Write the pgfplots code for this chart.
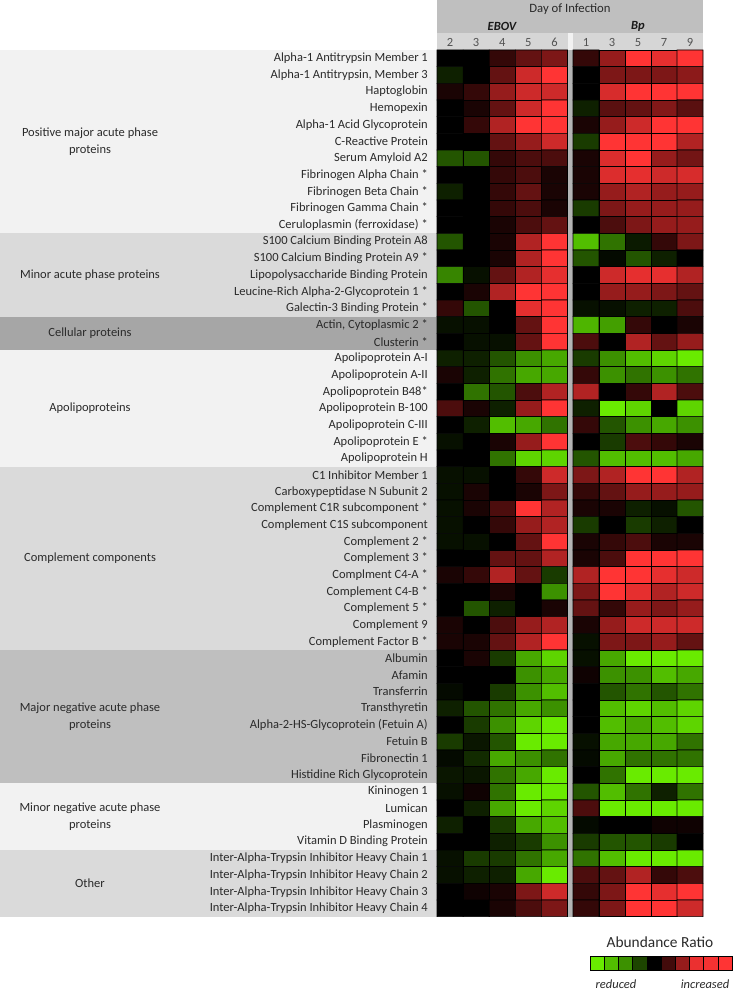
\documentclass[border=0pt]{standalone}
\usepackage{pgfplots}
\pgfplotsset{compat=1.18}
\usepackage{fontspec}
\setmainfont{Carlito}
\definecolor{gA}{HTML}{F2F2F2}
\definecolor{gB}{HTML}{DADADA}
\definecolor{gC}{HTML}{A6A6A6}
\definecolor{gD}{HTML}{BFBFBF}
\definecolor{hdr}{HTML}{BFBFBF}
\definecolor{hdrb}{HTML}{D6D6D6}
\definecolor{sepc}{HTML}{B4B4B4}
\definecolor{txt}{HTML}{2A2A2A}
\newcommand{\lab}[2]{\node[anchor=east,text=txt,font=\fontsize{12.5}{15}\selectfont,inner sep=0pt] at (axis cs:428,{50+16.667*(#1-0.5)}) {#2};}
\begin{document}
\begin{tikzpicture}
\begin{axis}[
  scale only axis, width=733pt, height=992pt,
  xmin=0, xmax=733, ymin=0, ymax=992, y dir=reverse,
  axis lines=none, clip=false,
  colormap={rg}{rgb255=(105,235,0) rgb255=(82,190,0) rgb255=(60,145,0) rgb255=(35,85,0) rgb255=(14,32,0) rgb255=(0,0,0) rgb255=(52,8,8) rgb255=(100,18,18) rgb255=(150,28,28) rgb255=(205,42,42) rgb255=(255,52,52)},
  point meta min=-5, point meta max=5,
]
% left panel bands
\fill[gA] (axis cs:0,50) rectangle (axis cs:437,233.33);
\fill[gB] (axis cs:0,233.33) rectangle (axis cs:437,316.67);
\fill[gC] (axis cs:0,316.67) rectangle (axis cs:437,350);
\fill[gA] (axis cs:0,350) rectangle (axis cs:437,466.67);
\fill[gB] (axis cs:0,466.67) rectangle (axis cs:437,650);
\fill[gD] (axis cs:0,650) rectangle (axis cs:437,783.33);
\fill[gA] (axis cs:0,783.33) rectangle (axis cs:437,850);
\fill[gB] (axis cs:0,850) rectangle (axis cs:437,916.67);
% header
\fill[hdr] (axis cs:437,0) rectangle (axis cs:703,33);
\fill[hdrb] (axis cs:437,33) rectangle (axis cs:567.5,50);
\fill[hdrb] (axis cs:573,33) rectangle (axis cs:703,50);
\fill[gA] (axis cs:567.5,33) rectangle (axis cs:573,50);
\fill[sepc] (axis cs:567.5,50) rectangle (axis cs:573,916.67);
\node[text=txt,font=\fontsize{12.7}{15}\selectfont] at (axis cs:570,9) {Day of Infection};
\node[text=black!90,font=\fontsize{12.5}{15}\selectfont\bfseries\itshape] at (axis cs:502,26) {EBOV};
\node[text=black!90,font=\fontsize{12.5}{15}\selectfont\bfseries\itshape] at (axis cs:638,26) {Bp};
\foreach \d/\xx in {2/450.05,3/476.15,4/502.25,5/528.35,6/554.45,1/586,3/612,5/638,7/664,9/690}{
  \edef\tmp{\noexpand\node[text=black!68,font=\noexpand\fontsize{12.5}{15}\noexpand\selectfont] at (axis cs:\xx,42.5) {\d};}\tmp}
% EBOV heatmap (days 2,3,4,5,6)
\addplot[matrix plot*, mesh/cols=5, point meta=explicit, draw=black, line width=0.6pt]
 table[row sep=\\, x expr={450.05+26.1*\thisrow{c}}, y expr={50+16.667*(\thisrow{r}-0.5)}, meta=v]{
c r v\\
0 1 0\\ 1 1 0\\ 2 1 1\\ 3 1 2\\ 4 1 2.5\\
0 2 -1\\ 1 2 0\\ 2 2 2\\ 3 2 4\\ 4 2 5\\
0 3 0.5\\ 1 3 1\\ 2 3 3\\ 3 3 4\\ 4 3 4\\
0 4 0\\ 1 4 0.5\\ 2 4 2\\ 3 4 4\\ 4 4 5\\
0 5 0\\ 1 5 1\\ 2 5 3.5\\ 3 5 5\\ 4 5 5\\
0 6 0\\ 1 6 0\\ 2 6 2\\ 3 6 3\\ 4 6 4\\
0 7 -2\\ 1 7 -2\\ 2 7 1\\ 3 7 1.5\\ 4 7 1.5\\
0 8 0\\ 1 8 0\\ 2 8 1\\ 3 8 1.5\\ 4 8 0.5\\
0 9 -1\\ 1 9 0\\ 2 9 1\\ 3 9 2\\ 4 9 0.5\\
0 10 0\\ 1 10 0\\ 2 10 1\\ 3 10 1.5\\ 4 10 0.5\\
0 11 0\\ 1 11 0\\ 2 11 0.5\\ 3 11 1.5\\ 4 11 2\\
0 12 -2\\ 1 12 0\\ 2 12 0.5\\ 3 12 3.5\\ 4 12 5\\
0 13 0\\ 1 13 0\\ 2 13 0.5\\ 3 13 3.5\\ 4 13 5\\
0 14 -2.8\\ 1 14 -0.5\\ 2 14 2\\ 3 14 3.5\\ 4 14 4.5\\
0 15 0\\ 1 15 0.5\\ 2 15 3.5\\ 3 15 5\\ 4 15 5\\
0 16 1\\ 1 16 -2\\ 2 16 0\\ 3 16 4.5\\ 4 16 5\\
0 17 -0.5\\ 1 17 -0.5\\ 2 17 0\\ 3 17 2\\ 4 17 5\\
0 18 0\\ 1 18 -0.5\\ 2 18 -0.5\\ 3 18 2\\ 4 18 5\\
0 19 -1\\ 1 19 -1\\ 2 19 -2\\ 3 19 -3\\ 4 19 -3.5\\
0 20 0.5\\ 1 20 -1\\ 2 20 -2.5\\ 3 20 -3.5\\ 4 20 -3.5\\
0 21 0\\ 1 21 -2.5\\ 2 21 -2\\ 3 21 1.5\\ 4 21 3.5\\
0 22 1.5\\ 1 22 0.5\\ 2 22 -1\\ 3 22 3\\ 4 22 5\\
0 23 0\\ 1 23 -1\\ 2 23 -4\\ 3 23 -3.5\\ 4 23 -2.5\\
0 24 -0.5\\ 1 24 0\\ 2 24 0.5\\ 3 24 3\\ 4 24 5\\
0 25 0\\ 1 25 0\\ 2 25 -2.5\\ 3 25 -4.5\\ 4 25 -4.5\\
0 26 -0.5\\ 1 26 -0.5\\ 2 26 0\\ 3 26 1\\ 4 26 4\\
0 27 -0.5\\ 1 27 0.5\\ 2 27 0\\ 3 27 0.5\\ 4 27 2.5\\
0 28 -0.5\\ 1 28 0.5\\ 2 28 1.5\\ 3 28 5\\ 4 28 3.5\\
0 29 -0.5\\ 1 29 0\\ 2 29 1\\ 3 29 3\\ 4 29 3.5\\
0 30 -0.5\\ 1 30 -0.5\\ 2 30 0\\ 3 30 2\\ 4 30 5\\
0 31 0\\ 1 31 0\\ 2 31 2\\ 3 31 2\\ 4 31 3.5\\
0 32 0.5\\ 1 32 1\\ 2 32 3.5\\ 3 32 2\\ 4 32 -1.5\\
0 33 0\\ 1 33 0\\ 2 33 0.5\\ 3 33 0\\ 4 33 -3\\
0 34 0\\ 1 34 -2\\ 2 34 -1\\ 3 34 0\\ 4 34 0.5\\
0 35 0.5\\ 1 35 0\\ 2 35 1.5\\ 3 35 3\\ 4 35 3.5\\
0 36 0.5\\ 1 36 0.5\\ 2 36 2\\ 3 36 3.5\\ 4 36 5\\
0 37 0\\ 1 37 0.5\\ 2 37 -1.5\\ 3 37 -3.5\\ 4 37 -4.5\\
0 38 0\\ 1 38 0\\ 2 38 0\\ 3 38 -3\\ 4 38 -3.5\\
0 39 -0.3\\ 1 39 0\\ 2 39 -1.5\\ 3 39 -3\\ 4 39 -4\\
0 40 -1\\ 1 40 -2\\ 2 40 -2.5\\ 3 40 -3.5\\ 4 40 -3\\
0 41 0\\ 1 41 -1.5\\ 2 41 -3\\ 3 41 -4.5\\ 4 41 -5\\
0 42 -1.5\\ 1 42 -0.7\\ 2 42 -2\\ 3 42 -5\\ 4 42 -5\\
0 43 -0.3\\ 1 43 -1.2\\ 2 43 -3.5\\ 3 43 -3\\ 4 43 -2.5\\
0 44 -0.7\\ 1 44 -0.7\\ 2 44 -2.5\\ 3 44 -3.5\\ 4 44 -5\\
0 45 -0.5\\ 1 45 0.3\\ 2 45 -2.5\\ 3 45 -5\\ 4 45 -5\\
0 46 0\\ 1 46 -1\\ 2 46 -3.5\\ 3 46 -5\\ 4 46 -4.5\\
0 47 -1\\ 1 47 0\\ 2 47 -1.5\\ 3 47 -3.5\\ 4 47 -4\\
0 48 0\\ 1 48 0\\ 2 48 -1\\ 3 48 -1.5\\ 4 48 -3\\
0 49 -0.5\\ 1 49 -1.5\\ 2 49 -1.5\\ 3 49 -2.5\\ 4 49 -3.5\\
0 50 -0.5\\ 1 50 -1\\ 2 50 -1\\ 3 50 -3.5\\ 4 50 -5\\
0 51 0\\ 1 51 0.3\\ 2 51 0.5\\ 3 51 2.5\\ 4 51 4\\
0 52 0\\ 1 52 0\\ 2 52 0.5\\ 3 52 1.5\\ 4 52 2.5\\
};
% Bp heatmap (days 1,3,5,7,9)
\addplot[matrix plot*, mesh/cols=5, point meta=explicit, draw=black, line width=0.6pt]
 table[row sep=\\, x expr={586+26*\thisrow{c}}, y expr={50+16.667*(\thisrow{r}-0.5)}, meta=v]{
c r v\\
0 1 1\\ 1 1 3\\ 2 1 5\\ 3 1 4.5\\ 4 1 5\\
0 2 0\\ 1 2 2.5\\ 2 2 2.5\\ 3 2 2.5\\ 4 2 2.8\\
0 3 0\\ 1 3 4.2\\ 2 3 5\\ 3 3 5\\ 4 3 5\\
0 4 -1\\ 1 4 1.8\\ 2 4 2\\ 3 4 2.6\\ 4 4 1.8\\
0 5 0.5\\ 1 5 3\\ 2 5 4\\ 3 5 5\\ 4 5 5\\
0 6 -1.5\\ 1 6 5\\ 2 6 5\\ 3 6 5\\ 4 6 3.5\\
0 7 0.5\\ 1 7 4.3\\ 2 7 5\\ 3 7 3\\ 4 7 2.3\\
0 8 0.5\\ 1 8 4.3\\ 2 8 4.5\\ 3 8 4\\ 4 8 4.2\\
0 9 0.5\\ 1 9 3\\ 2 9 3.5\\ 3 9 3\\ 4 9 3\\
0 10 -1.5\\ 1 10 2.5\\ 2 10 3\\ 3 10 3\\ 4 10 3\\
0 11 0\\ 1 11 1.5\\ 2 11 2.5\\ 3 11 3\\ 4 11 3\\
0 12 -4\\ 1 12 -2.5\\ 2 12 -0.8\\ 3 12 1\\ 4 12 2.5\\
0 13 -2\\ 1 13 -0.3\\ 2 13 -2\\ 3 13 -1\\ 4 13 0\\
0 14 0\\ 1 14 4\\ 2 14 4.5\\ 3 14 4.5\\ 4 14 3.5\\
0 15 0\\ 1 15 3\\ 2 15 3\\ 3 15 2.5\\ 4 15 2\\
0 16 -0.5\\ 1 16 -0.5\\ 2 16 -1\\ 3 16 -1\\ 4 16 1.5\\
0 17 -3.8\\ 1 17 -3.3\\ 2 17 1\\ 3 17 0\\ 4 17 0.5\\
0 18 1.5\\ 1 18 0\\ 2 18 3.5\\ 3 18 2\\ 4 18 3\\
0 19 -1.5\\ 1 19 -3\\ 2 19 -4\\ 3 19 -4.5\\ 4 19 -5\\
0 20 1\\ 1 20 -3\\ 2 20 -2.5\\ 3 20 -3\\ 4 20 -2.5\\
0 21 3.5\\ 1 21 0\\ 2 21 1\\ 3 21 3.5\\ 4 21 1.5\\
0 22 -1\\ 1 22 -5\\ 2 22 -4.5\\ 3 22 0\\ 4 22 -4.5\\
0 23 1\\ 1 23 -2\\ 2 23 -3\\ 3 23 -3.5\\ 4 23 -3\\
0 24 0\\ 1 24 -1.5\\ 2 24 1.5\\ 3 24 1\\ 4 24 0.5\\
0 25 -2\\ 1 25 -4\\ 2 25 -4\\ 3 25 -4\\ 4 25 -3.5\\
0 26 2.5\\ 1 26 3.5\\ 2 26 5\\ 3 26 5\\ 4 26 3.5\\
0 27 1\\ 1 27 2\\ 2 27 3\\ 3 27 3\\ 4 27 3\\
0 28 0.5\\ 1 28 0.5\\ 2 28 -1\\ 3 28 -0.5\\ 4 28 -2\\
0 29 -1.5\\ 1 29 0\\ 2 29 -1.5\\ 3 29 -1\\ 4 29 0\\
0 30 0.5\\ 1 30 1\\ 2 30 1.5\\ 3 30 0.5\\ 4 30 0.5\\
0 31 0.5\\ 1 31 1.5\\ 2 31 5\\ 3 31 5\\ 4 31 5\\
0 32 3.5\\ 1 32 5\\ 2 32 5\\ 3 32 4.5\\ 4 32 4\\
0 33 2.5\\ 1 33 5\\ 2 33 4.5\\ 3 33 3.5\\ 4 33 4\\
0 34 2\\ 1 34 1\\ 2 34 3\\ 3 34 2.5\\ 4 34 3\\
0 35 0.5\\ 1 35 3\\ 2 35 4\\ 3 35 4\\ 4 35 4\\
0 36 -0.5\\ 1 36 2.5\\ 2 36 2.5\\ 3 36 3\\ 4 36 2\\
0 37 -0.5\\ 1 37 -3.5\\ 2 37 -5\\ 3 37 -5\\ 4 37 -5\\
0 38 0.3\\ 1 38 -3\\ 2 38 -3\\ 3 38 -4\\ 4 38 -3.5\\
0 39 0\\ 1 39 -2\\ 2 39 -2.5\\ 3 39 -2\\ 4 39 -2.5\\
0 40 0\\ 1 40 -4\\ 2 40 -4.5\\ 3 40 -4\\ 4 40 -4.5\\
0 41 0\\ 1 41 -4\\ 2 41 -3.5\\ 3 41 -4\\ 4 41 -4.5\\
0 42 -0.5\\ 1 42 -3.5\\ 2 42 -3.5\\ 3 42 -3.5\\ 4 42 -2.5\\
0 43 -0.3\\ 1 43 -3.5\\ 2 43 -2.5\\ 3 43 -2.5\\ 4 43 -2.5\\
0 44 0\\ 1 44 -2.5\\ 2 44 -5\\ 3 44 -5\\ 4 44 -5\\
0 45 -2\\ 1 45 -4\\ 2 45 -2.5\\ 3 45 -1\\ 4 45 -2.5\\
0 46 1.5\\ 1 46 -5\\ 2 46 -5\\ 3 46 -5\\ 4 46 -5\\
0 47 -0.3\\ 1 47 0\\ 2 47 0\\ 3 47 0.3\\ 4 47 0.3\\
0 48 -1.5\\ 1 48 -2\\ 2 48 -2\\ 3 48 -1.5\\ 4 48 0\\
0 49 -2.5\\ 1 49 -4\\ 2 49 -5\\ 3 49 -5\\ 4 49 -5\\
0 50 1.5\\ 1 50 2\\ 2 50 3.5\\ 3 50 1\\ 4 50 1.5\\
0 51 1\\ 1 51 2.5\\ 2 51 5\\ 3 51 4.5\\ 4 51 5\\
0 52 1\\ 1 52 2.5\\ 2 52 5\\ 3 52 5\\ 4 52 4\\
};
% legend swatches
\addplot[scatter, only marks, mark=square*, mark size=7.1pt, point meta=explicit,
  scatter/use mapped color={draw=black, fill=mapped color}, line width=0.5pt]
 table[row sep=\\, meta=v]{
x y v\\
597.1 963.5 -5\\ 611.3 963.5 -4\\ 625.5 963.5 -3\\ 639.7 963.5 -1.7\\ 653.9 963.5 0\\
668.1 963.5 1.3\\ 682.3 963.5 3\\ 696.5 963.5 4.6\\ 710.7 963.5 4.8\\ 724.9 963.5 5\\
};
\node[text=txt,font=\fontsize{15.4}{18}\selectfont] at (axis cs:660,942) {Abundance Ratio};
\node[text=txt,font=\fontsize{12.5}{15}\selectfont\itshape] at (axis cs:616,984) {reduced};
\node[text=txt,font=\fontsize{12.5}{15}\selectfont\itshape] at (axis cs:705,984) {increased};
% group labels
\node[text=txt,align=center,font=\fontsize{12.5}{17}\selectfont] at (axis cs:90,141.7) {Positive major acute phase\\proteins};
\node[text=txt,align=center,font=\fontsize{12.5}{17}\selectfont] at (axis cs:90,275) {Minor acute phase proteins};
\node[text=txt,align=center,font=\fontsize{12.5}{17}\selectfont] at (axis cs:90,333.3) {Cellular proteins};
\node[text=txt,align=center,font=\fontsize{12.5}{17}\selectfont] at (axis cs:90,408.3) {Apolipoproteins};
\node[text=txt,align=center,font=\fontsize{12.5}{17}\selectfont] at (axis cs:90,558.3) {Complement components};
\node[text=txt,align=center,font=\fontsize{12.5}{17}\selectfont] at (axis cs:90,716.7) {Major negative acute phase\\proteins};
\node[text=txt,align=center,font=\fontsize{12.5}{17}\selectfont] at (axis cs:90,816.7) {Minor negative acute phase\\proteins};
\node[text=txt,align=center,font=\fontsize{12.5}{17}\selectfont] at (axis cs:90,883.3) {Other};
% protein labels
\lab{1}{Alpha-1 Antitrypsin Member 1}
\lab{2}{Alpha-1 Antitrypsin, Member 3}
\lab{3}{Haptoglobin}
\lab{4}{Hemopexin}
\lab{5}{Alpha-1 Acid Glycoprotein}
\lab{6}{C-Reactive Protein}
\lab{7}{Serum Amyloid A2}
\lab{8}{Fibrinogen Alpha Chain *}
\lab{9}{Fibrinogen Beta Chain *}
\lab{10}{Fibrinogen Gamma Chain *}
\lab{11}{Ceruloplasmin (ferroxidase) *}
\lab{12}{S100 Calcium Binding Protein A8}
\lab{13}{S100 Calcium Binding Protein A9 *}
\lab{14}{Lipopolysaccharide Binding Protein}
\lab{15}{Leucine-Rich Alpha-2-Glycoprotein 1 *}
\lab{16}{Galectin-3 Binding Protein *}
\lab{17}{Actin, Cytoplasmic 2 *}
\lab{18}{Clusterin *}
\lab{19}{Apolipoprotein A-I}
\lab{20}{Apolipoprotein A-II}
\lab{21}{Apolipoprotein B48*}
\lab{22}{Apolipoprotein B-100}
\lab{23}{Apolipoprotein C-III}
\lab{24}{Apolipoprotein E *}
\lab{25}{Apolipoprotein H}
\lab{26}{C1 Inhibitor Member 1}
\lab{27}{Carboxypeptidase N Subunit 2}
\lab{28}{Complement C1R subcomponent *}
\lab{29}{Complement C1S subcomponent}
\lab{30}{Complement 2 *}
\lab{31}{Complement 3 *}
\lab{32}{Complment C4-A *}
\lab{33}{Complement C4-B *}
\lab{34}{Complement 5 *}
\lab{35}{Complement 9}
\lab{36}{Complement Factor B *}
\lab{37}{Albumin}
\lab{38}{Afamin}
\lab{39}{Transferrin}
\lab{40}{Transthyretin}
\lab{41}{Alpha-2-HS-Glycoprotein (Fetuin A)}
\lab{42}{Fetuin B}
\lab{43}{Fibronectin 1}
\lab{44}{Histidine Rich Glycoprotein}
\lab{45}{Kininogen 1}
\lab{46}{Lumican}
\lab{47}{Plasminogen}
\lab{48}{Vitamin D Binding Protein}
\lab{49}{Inter-Alpha-Trypsin Inhibitor Heavy Chain 1}
\lab{50}{Inter-Alpha-Trypsin Inhibitor Heavy Chain 2}
\lab{51}{Inter-Alpha-Trypsin Inhibitor Heavy Chain 3}
\lab{52}{Inter-Alpha-Trypsin Inhibitor Heavy Chain 4}
\end{axis}
\pgfresetboundingbox
\useasboundingbox (0,0) rectangle (733pt,992pt);
\end{tikzpicture}
\end{document}
